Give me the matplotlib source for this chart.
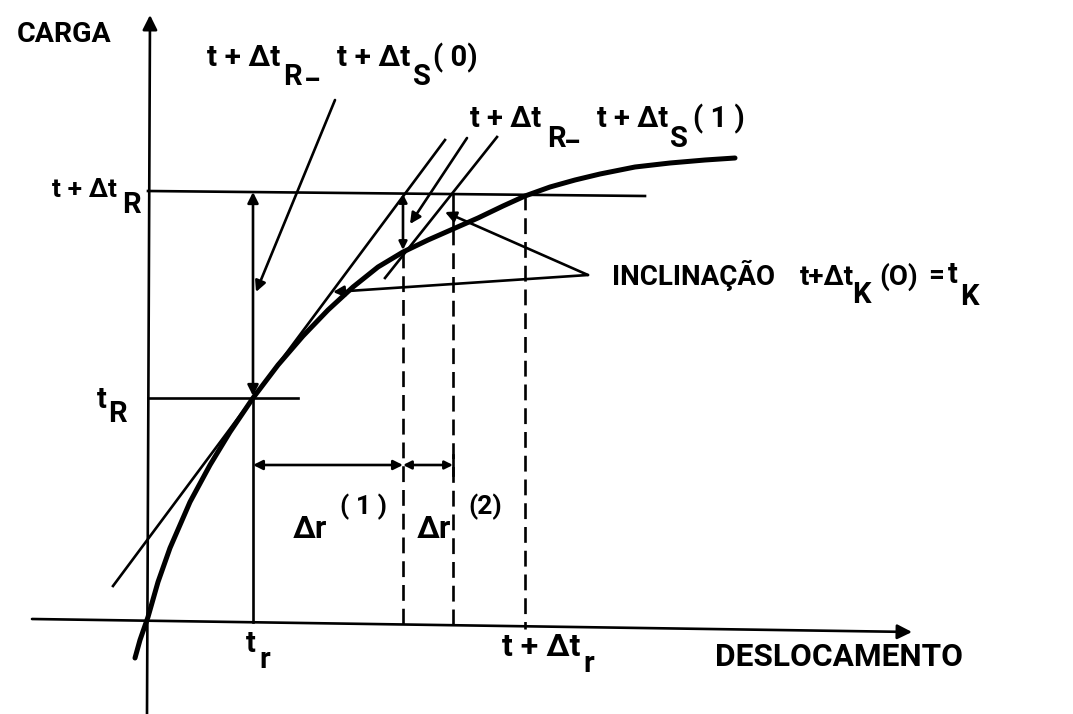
import matplotlib
matplotlib.use("Agg")
import matplotlib.pyplot as plt

# load-displacement curve (pixel-space coordinates, y downwards)
CURVE_X = [135, 140, 148, 158, 170, 190, 210, 230, 253, 278, 303, 328, 353, 378, 403,
           428, 453, 478, 503, 525, 550, 575, 600, 635, 670, 705, 735]
CURVE_Y = [658, 640, 617, 582, 548, 502, 465, 432, 398, 365, 336, 310, 287, 267, 252,
           240, 229, 218, 206, 196, 187, 180, 174, 167, 163, 160, 158]

# tangent stiffness lines
TANGENT_0 = ([113, 445], [586, 140])
TANGENT_1 = ([385, 497], [278, 137])

X_AXIS = ([32, 912], [619, 632])
Y_AXIS = ([147, 150], [714, 15])

LEVEL_R1 = ([148, 645], [191, 196])   # t+dt R
LEVEL_R0 = ([148, 298], [398, 398])   # t R

X_TR = 253           # t r
X_ITER = [403, 453]  # iterates
X_TDR = 525          # t+dt r
Y_CURVE_ITER = [252, 229]
Y_DIM = 465

fig = plt.figure(figsize=(10.73, 7.14), dpi=100)
ax = fig.add_axes([0, 0, 1, 1])
ax.set_xlim(0, 1073)
ax.set_ylim(714, 0)
ax.axis("off")

K = "black"
LW = 1.9

# axes with arrows
ax.annotate("", xy=(Y_AXIS[0][1], Y_AXIS[1][1]), xytext=(Y_AXIS[0][0], Y_AXIS[1][0]),
            arrowprops=dict(arrowstyle="-|>", lw=LW, color=K, mutation_scale=22,
                            shrinkA=0, shrinkB=0))
ax.annotate("", xy=(X_AXIS[0][1], X_AXIS[1][1]), xytext=(X_AXIS[0][0], X_AXIS[1][0]),
            arrowprops=dict(arrowstyle="-|>", lw=LW, color=K, mutation_scale=22,
                            shrinkA=0, shrinkB=0))

# curve and tangents
ax.plot(CURVE_X, CURVE_Y, color=K, lw=3.6, solid_capstyle="round", solid_joinstyle="round")
ax.plot(*TANGENT_0, color=K, lw=LW)
ax.plot(*TANGENT_1, color=K, lw=LW)

# load levels
ax.plot(*LEVEL_R1, color=K, lw=LW)
ax.plot(*LEVEL_R0, color=K, lw=LW)

# t r vertical
ax.plot([X_TR, X_TR], [LEVEL_R0[1][0], 622], color=K, lw=LW)


def arrow(tip, tail, both=False, ms=16):
    ax.annotate("", xy=tip, xytext=tail,
                arrowprops=dict(arrowstyle="<|-|>" if both else "-|>", lw=LW, color=K,
                                mutation_scale=ms, shrinkA=0, shrinkB=0))


# residual at step start
arrow((X_TR, 192), (X_TR, 396), both=True)

# iteration residuals and dashed drops
arrow((X_ITER[0], Y_CURVE_ITER[0] - 2), (X_ITER[0], 194), both=True, ms=12)
ax.plot([X_ITER[1], X_ITER[1]], [195, Y_CURVE_ITER[1]], color=K, lw=LW)
dash = (0, (6, 3))
ax.plot([X_ITER[0], X_ITER[0]], [Y_CURVE_ITER[0], 626], color=K, lw=LW, ls=dash)
ax.plot([X_ITER[1], X_ITER[1]], [Y_CURVE_ITER[1], 627], color=K, lw=LW, ls=dash)
ax.plot([X_TDR, X_TDR], [194, 629], color=K, lw=LW, ls=dash)

# displacement increments
arrow((X_TR, Y_DIM), (X_ITER[0], Y_DIM), both=True, ms=14)
arrow((X_ITER[0], Y_DIM), (X_ITER[1], Y_DIM), both=True, ms=12)
ax.plot([X_ITER[1], X_ITER[1]], [Y_DIM - 10, Y_DIM + 10], color=K, lw=LW)

# leaders
arrow((256, 292), (335, 100))
arrow((410, 224), (467, 138))
arrow((445, 212), (588, 275))
arrow((333, 292), (588, 275))

FONT = ["Roboto", "DejaVu Sans"]


def put(x, y, s, size=21):
    ax.text(x, y, s, fontsize=size, fontweight="bold", family=FONT, color=K,
            ha="left", va="baseline")


put(17, 42, "CARGA", 20.5)
put(715, 666, "DESLOCAMENTO", 22.8)
put(612, 285, "INCLINAÇÃO", 20)

# t+dt R - t+dt S(0)
put(207, 66, "t + Δt", 21.5)
put(283, 85, "R")
put(306, 78, "_")
put(337, 66, "t + Δt", 21.5)
put(413, 85, "S")
put(433, 66, "( 0)")

# t+dt R - t+dt S(1)
put(470, 127, "t + Δt", 21)
put(547, 147, "R")
put(566, 140, "_")
put(597, 127, "t + Δt", 21)
put(670, 147, "S")
put(693, 127, "( 1 )")

# slope label
put(800, 285, "t+Δt", 20)
put(852, 303, "K")
put(879, 285, "(O)", 20)
put(928, 283, "=", 20)
put(948, 283, "t")
put(960, 305, "K")

# load axis marks
put(52, 197, "t + Δt", 19)
put(122, 213, "R")
put(97, 408, "t")
put(108, 422, "R")

# displacement axis marks
put(246, 652, "t")
put(259, 668, "r")
put(502, 656, "t + Δt", 23)
put(583, 672, "r")

# increments
put(293, 538, "Δr", 22.5)
put(340, 514, "( 1 )", 19)
put(417, 538, "Δr", 22.5)
put(468, 514, "(2)", 19)

fig.savefig("out.png", dpi=100)
